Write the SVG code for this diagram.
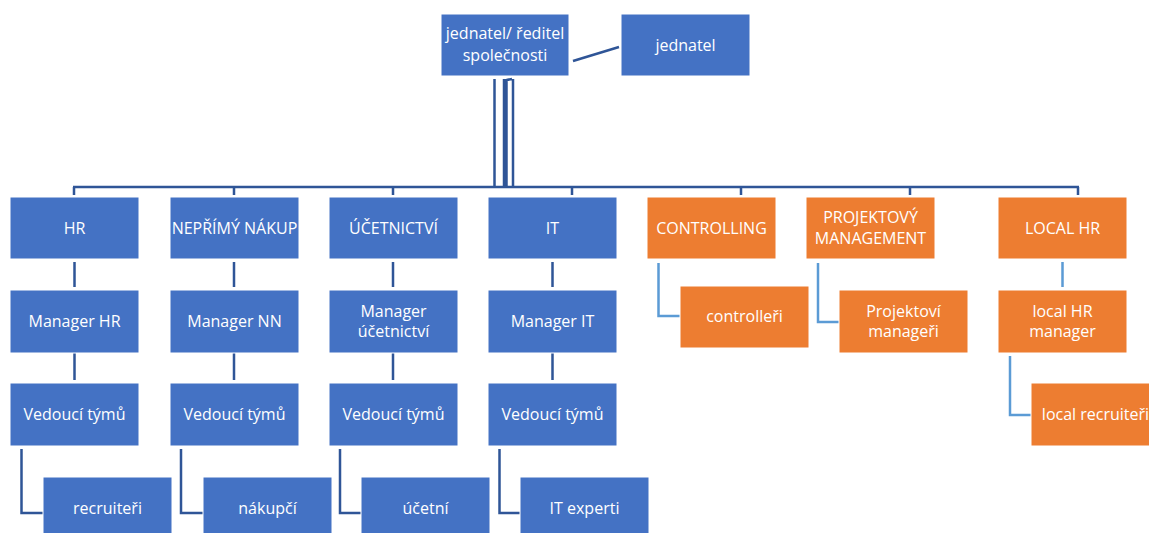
<svg xmlns="http://www.w3.org/2000/svg" width="1149" height="533" viewBox="0 0 1149 533">
<style>
.b{fill:#4472C4;stroke:#FFFFFF;stroke-width:1}
.o{fill:#ED7D31;stroke:#FFFFFF;stroke-width:1}
.t{font-family:"Open Sans","Liberation Sans",sans-serif;font-size:16px;fill:#FFFFFF;text-anchor:middle}
.c{fill:none;stroke:#2F5597;stroke-width:2.5}
.lc{fill:none;stroke:#5B9BD5;stroke-width:2.5}
</style>
<rect width="1149" height="533" fill="#FFFFFF"/>
<g id="connectors">
<line class="c" x1="573" y1="61" x2="619" y2="47"/>
<path class="c" d="M494.5 79V187M504 79V187M506.5 79V187M513 79V187M506.5 80L512 79"/>
<path class="c" d="M73 187H1079M74 187V195M234 187V195M393 187V195M572 187V195M741 187V195M910 187V195M1078 187V195"/>
<path class="c" d="M74.5 262V287M74.5 353V380M234 262V287M234 353V380M393 262V287M393 353V380M552.5 262V287M552.5 353V380"/>
<path class="c" d="M21.5 449V513H43M181 449V513H203M340 449V513H361M499.5 449V513H520"/>
<path class="lc" d="M658.5 263V316H680M818 263V322H839M1062.5 262V287M1010 356V415H1031"/>
</g>
<g id="n-top"><rect class="b" x="441" y="14" width="128" height="62"/><text class="t" x="505" y="39">jednatel/ ředitel</text><text class="t" x="505" y="61">společnosti</text></g>
<g id="n-jednatel"><rect class="b" x="621" y="14" width="129" height="62"/><text class="t" x="685.5" y="51">jednatel</text></g>

<g id="n-hr"><rect class="b" x="10" y="197" width="129" height="62"/><text class="t" x="74.5" y="234">HR</text></g>
<g id="n-nakup"><rect class="b" x="170" y="197" width="129" height="62"/><text class="t" x="234.5" y="234">NEPŘÍMÝ NÁKUP</text></g>
<g id="n-ucet"><rect class="b" x="329" y="197" width="129" height="62"/><text class="t" x="393.5" y="234">ÚČETNICTVÍ</text></g>
<g id="n-it"><rect class="b" x="488" y="197" width="129" height="62"/><text class="t" x="552.5" y="234">IT</text></g>

<g id="n-mhr"><rect class="b" x="10" y="290" width="129" height="63"/><text class="t" x="74.5" y="327">Manager HR</text></g>
<g id="n-mnn"><rect class="b" x="170" y="290" width="129" height="63"/><text class="t" x="234.5" y="327">Manager NN</text></g>
<g id="n-mucet"><rect class="b" x="329" y="290" width="129" height="63"/><text class="t" x="393.5" y="317">Manager</text><text class="t" x="393.5" y="337">účetnictví</text></g>
<g id="n-mit"><rect class="b" x="488" y="290" width="129" height="63"/><text class="t" x="552.5" y="327">Manager IT</text></g>

<g id="n-v1"><rect class="b" x="10" y="383" width="129" height="63"/><text class="t" x="74.5" y="420">Vedoucí týmů</text></g>
<g id="n-v2"><rect class="b" x="170" y="383" width="129" height="63"/><text class="t" x="234.5" y="420">Vedoucí týmů</text></g>
<g id="n-v3"><rect class="b" x="329" y="383" width="129" height="63"/><text class="t" x="393.5" y="420">Vedoucí týmů</text></g>
<g id="n-v4"><rect class="b" x="488" y="383" width="129" height="63"/><text class="t" x="552.5" y="420">Vedoucí týmů</text></g>

<g id="n-recr"><rect class="b" x="43" y="477" width="129" height="63"/><text class="t" x="107.5" y="514">recruiteři</text></g>
<g id="n-nakupci"><rect class="b" x="203" y="477" width="129" height="63"/><text class="t" x="267.5" y="514">nákupčí</text></g>
<g id="n-ucetni"><rect class="b" x="361" y="477" width="129" height="63"/><text class="t" x="425.5" y="514">účetní</text></g>
<g id="n-itexp"><rect class="b" x="520" y="477" width="129" height="63"/><text class="t" x="584.5" y="514">IT experti</text></g>

<g id="n-ctrl"><rect class="o" x="647" y="197" width="129" height="62"/><text class="t" x="711.5" y="234">CONTROLLING</text></g>
<g id="n-pm"><rect class="o" x="806" y="197" width="129" height="62"/><text class="t" x="870.5" y="223">PROJEKTOVÝ</text><text class="t" x="870.5" y="244">MANAGEMENT</text></g>
<g id="n-lhr"><rect class="o" x="998" y="197" width="129" height="62"/><text class="t" x="1062.5" y="234">LOCAL HR</text></g>

<g id="n-ctrlr"><rect class="o" x="680" y="286" width="129" height="62"/><text class="t" x="744.5" y="322">controlleři</text></g>
<g id="n-pmgr"><rect class="o" x="839" y="290" width="129" height="63"/><text class="t" x="903.5" y="317">Projektoví</text><text class="t" x="903.5" y="337">manageři</text></g>
<g id="n-lhrm"><rect class="o" x="998" y="290" width="129" height="63"/><text class="t" x="1062.5" y="317">local HR</text><text class="t" x="1062.5" y="337">manager</text></g>
<g id="n-lrec"><rect class="o" x="1031" y="383" width="129" height="63"/><text class="t" x="1095.5" y="420">local recruiteři</text></g>
</svg>
